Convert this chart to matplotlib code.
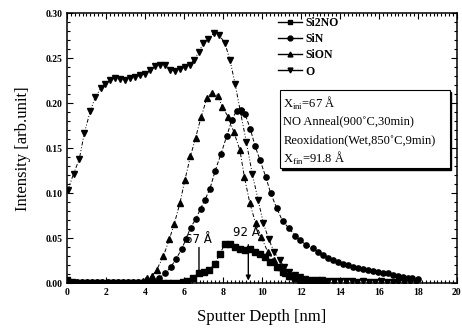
import numpy as np
import matplotlib
matplotlib.use("Agg")
import matplotlib.pyplot as plt
from matplotlib.ticker import MultipleLocator
from matplotlib.patches import Rectangle
from matplotlib.lines import Line2D

plt.rcParams['font.family'] = ['Liberation Serif', 'DejaVu Serif']
plt.rcParams['mathtext.fontset'] = 'custom'
plt.rcParams['mathtext.rm'] = 'Liberation Serif'

# depth [nm] and intensity [arb. unit]
o_x = [0.05, 0.34, 0.63, 0.89, 1.19, 1.45, 1.74, 1.96, 2.22, 2.48, 2.73, 2.99, 3.25, 3.50,
       3.76, 4.02, 4.27, 4.53, 4.78, 5.04, 5.30, 5.54, 5.79, 6.05, 6.31, 6.50, 6.77, 6.99,
       7.25, 7.54, 7.80, 8.10, 8.36, 8.62, 8.90, 9.20, 9.50, 9.80, 10.07, 10.35, 10.62,
       10.90, 11.15, 11.40, 11.70, 11.95, 12.20, 12.50, 12.80, 13.10, 13.40, 13.70, 14.00,
       14.30, 14.60, 14.90, 15.20, 15.50, 15.80, 16.10, 16.40, 16.70, 17.00, 17.30, 17.60, 17.90]
o_y = [0.104, 0.122, 0.138, 0.167, 0.191, 0.207, 0.217, 0.222, 0.226, 0.228, 0.227, 0.226,
       0.228, 0.229, 0.231, 0.233, 0.237, 0.241, 0.243, 0.243, 0.237, 0.236, 0.238, 0.240,
       0.243, 0.248, 0.257, 0.267, 0.272, 0.278, 0.276, 0.267, 0.248, 0.222, 0.190, 0.157,
       0.122, 0.093, 0.067, 0.049, 0.035, 0.026, 0.018, 0.013, 0.009, 0.007, 0.005, 0.004,
       0.004, 0.004, 0.003, 0.003, 0.003, 0.003, 0.003, 0.002, 0.003, 0.002, 0.002, 0.003,
       0.002, 0.002, 0.002, 0.002, 0.002, 0.002]

sin_x = [0.00, 0.26, 0.52, 0.78, 1.04, 1.30, 1.56, 1.82, 2.08, 2.34, 2.60, 2.86, 3.12, 3.38,
         3.64, 3.90, 4.16, 4.42, 4.73, 5.03, 5.32, 5.59, 5.88, 6.10, 6.34, 6.62, 6.85, 7.08,
         7.33, 7.60, 7.90, 8.20, 8.45, 8.70, 8.90, 9.13, 9.40, 9.64, 9.90, 10.20, 10.45,
         10.75, 11.06, 11.40, 11.70, 11.95, 12.25, 12.60, 12.90, 13.15, 13.40, 13.66, 13.90,
         14.17, 14.40, 14.68, 14.95, 15.20, 15.45, 15.70, 15.95, 16.20, 16.45, 16.70, 17.00,
         17.25, 17.50, 17.70, 18.00]
sin_y = [0.003, 0.001, 0.001, 0.001, 0.001, 0.001, 0.001, 0.001, 0.001, 0.001, 0.001, 0.001,
         0.001, 0.001, 0.002, 0.002, 0.002, 0.003, 0.006, 0.011, 0.018, 0.027, 0.038, 0.049,
         0.062, 0.072, 0.083, 0.093, 0.105, 0.125, 0.144, 0.164, 0.181, 0.192, 0.193, 0.188,
         0.172, 0.153, 0.137, 0.118, 0.100, 0.084, 0.069, 0.061, 0.053, 0.048, 0.043, 0.039,
         0.035, 0.031, 0.028, 0.026, 0.024, 0.022, 0.020, 0.018, 0.017, 0.0155, 0.015, 0.014,
         0.013, 0.012, 0.011, 0.009, 0.008, 0.007, 0.006, 0.0055, 0.0045]

sion_x = [0.00, 0.26, 0.52, 0.78, 1.04, 1.30, 1.56, 1.82, 2.08, 2.34, 2.60, 2.86, 3.12, 3.38,
          3.64, 3.90, 4.09, 4.35, 4.60, 4.94, 5.25, 5.50, 5.79, 6.05, 6.33, 6.60, 6.88, 7.18,
          7.42, 7.76, 7.96, 8.27, 8.56, 8.87, 9.10, 9.38, 9.67, 9.97, 10.30, 10.60, 10.90,
          11.20, 11.50, 11.80, 12.10, 12.40, 12.70, 13.00]
sion_y = [0.002, 0.001, 0.001, 0.001, 0.001, 0.001, 0.001, 0.001, 0.001, 0.001, 0.001, 0.001,
          0.001, 0.002, 0.002, 0.003, 0.006, 0.008, 0.015, 0.030, 0.049, 0.066, 0.089, 0.115,
          0.141, 0.162, 0.185, 0.206, 0.212, 0.208, 0.196, 0.185, 0.168, 0.148, 0.118, 0.089,
          0.067, 0.051, 0.035, 0.026, 0.018, 0.012, 0.008, 0.006, 0.004, 0.003, 0.003, 0.002]

si2no_x = [0.00, 0.26, 0.52, 0.78, 1.04, 1.30, 1.56, 1.82, 2.08, 2.34, 2.60, 2.86, 3.12, 3.38,
           3.64, 3.90, 4.16, 4.42, 4.68, 4.94, 5.20, 5.46, 5.72, 5.96, 6.14, 6.47, 6.75, 7.02,
           7.30, 7.59, 7.85, 8.10, 8.36, 8.62, 8.87, 9.13, 9.38, 9.64, 9.90, 10.15, 10.41,
           10.75, 11.10, 11.40, 11.70, 12.00, 12.30, 12.60, 12.90, 13.20]
si2no_y = [0.004, 0.001, 0.000, 0.000, 0.000, 0.000, 0.000, 0.000, 0.000, 0.000, 0.000, 0.000,
           0.000, 0.000, 0.000, 0.000, 0.000, 0.000, 0.000, 0.000, 0.000, 0.000, 0.000, 0.001,
           0.003, 0.006, 0.012, 0.013, 0.015, 0.022, 0.033, 0.044, 0.044, 0.040, 0.038, 0.037,
           0.038, 0.035, 0.033, 0.029, 0.024, 0.018, 0.013, 0.008, 0.006, 0.004, 0.003, 0.002,
           0.002, 0.002]

fig = plt.figure(figsize=(4.62, 3.33), dpi=100)
ax = fig.add_axes([0.145, 0.149, 0.844, 0.811])

ms = 3.8
lw = 0.7
ax.plot(si2no_x, si2no_y, color='k', marker='s', ms=ms, lw=lw, ls=(0, (3, 2)))
ax.plot(sin_x, sin_y, color='k', marker='o', ms=ms, lw=lw, ls=(0, (4, 2)))
ax.plot(sion_x, sion_y, color='k', marker='^', ms=ms, lw=lw, ls=(0, (4, 2, 1, 2)))
ax.plot(o_x, o_y, color='k', marker='v', ms=ms, lw=lw, ls=(0, (4, 2, 1, 2, 1, 2)))

ax.set_xlim(0, 20)
ax.set_ylim(0, 0.30)
ax.xaxis.set_major_locator(MultipleLocator(2))
ax.xaxis.set_minor_locator(MultipleLocator(0.2))
ax.yaxis.set_major_locator(MultipleLocator(0.05))
ax.yaxis.set_minor_locator(MultipleLocator(0.01))
ax.yaxis.set_major_formatter(matplotlib.ticker.FormatStrFormatter('%.2f'))
ax.tick_params(which='both', direction='in', top=True, right=True, width=0.8)
ax.tick_params(which='major', length=4, pad=3)
ax.tick_params(which='minor', length=2)
for lab in ax.get_xticklabels() + ax.get_yticklabels():
    lab.set_fontweight('bold')
    lab.set_fontsize(7)
for s in ax.spines.values():
    s.set_linewidth(1.1)

ax.set_xlabel('Sputter Depth [nm]', fontsize=12, labelpad=9)
ax.set_ylabel('Intensity [arb.unit]', fontsize=12, labelpad=11)

handles = [Line2D([], [], color='k', lw=1.0, marker=m, ms=3.5) for m in ['s', 'o', '^', 'v']]
ax.legend(handles, ['Si2NO', 'SiN', 'SiON', 'O'], loc='upper left',
          bbox_to_anchor=(0.515, 1.025), frameon=False,
          handlelength=2.0, handletextpad=0.3, labelspacing=0.35,
          prop={'family': 'Liberation Serif', 'weight': 'bold', 'size': 8.5})

# info box with shadow
ax.add_patch(Rectangle((11.02, 0.1255), 8.7, 0.087, transform=ax.transData,
                       facecolor='k', edgecolor='k', zorder=5))
ax.add_patch(Rectangle((10.92, 0.128), 8.7, 0.087, transform=ax.transData,
                       facecolor='white', edgecolor='k', lw=0.8, zorder=6))
box_lines = [r'X$_{\rm ini}$=67 Å', 'NO Anneal(900˚C,30min)',
             'Reoxidation(Wet,850˚C,9min)', r'X$_{\rm fin}$=91.8 Å']
box_y = [0.200, 0.180, 0.159, 0.139]
for s, yy in zip(box_lines, box_y):
    ax.text(11.1, yy, s, fontsize=9, va='center', ha='left', zorder=7)

# thickness markers
ax.annotate('', xy=(6.77, 0.011), xytext=(6.77, 0.043),
            arrowprops=dict(arrowstyle='-', color='k', lw=1.0))
ax.text(6.75, 0.049, '67 Å', fontsize=8.5, ha='center', va='center',
        family='DejaVu Sans')
ax.annotate('', xy=(9.3, 0.0), xytext=(9.3, 0.046),
            arrowprops=dict(arrowstyle='-|>', color='k', lw=1.0, mutation_scale=7))
ax.text(9.2, 0.056, '92 Å', fontsize=8.5, ha='center', va='center',
        family='DejaVu Sans')

fig.savefig('out.png', dpi=100)
